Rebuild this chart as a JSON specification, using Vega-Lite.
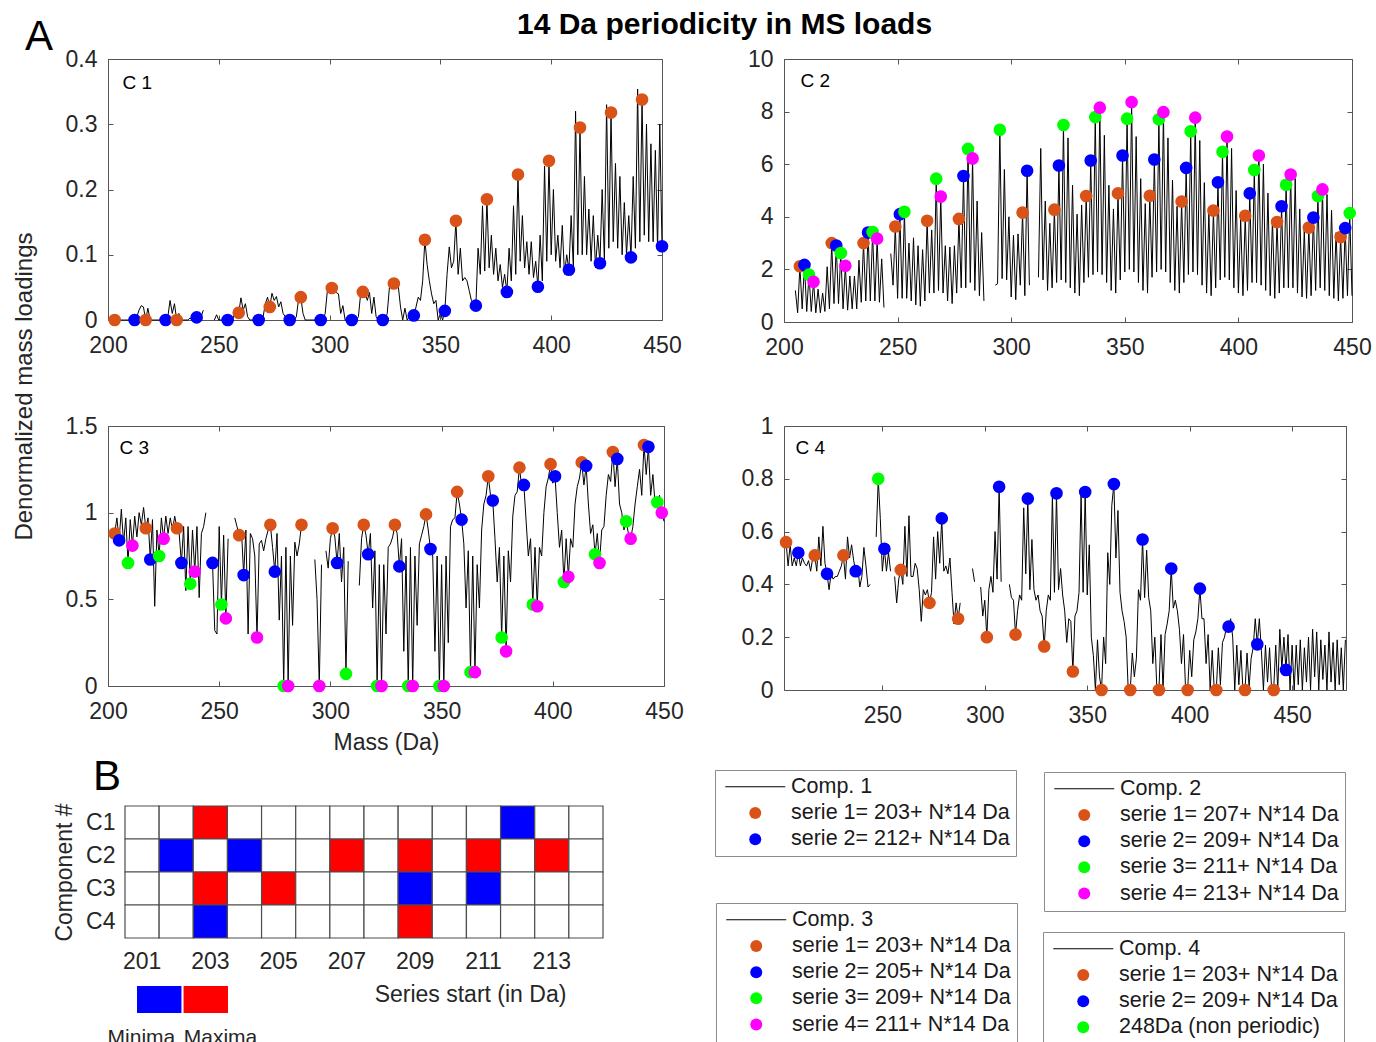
{
"$schema": "https://vega.github.io/schema/vega-lite/v6.json",
"autosize": "none",
"padding": {"left": 108, "top": 59, "right": 1268, "bottom": 983},
"background": "#ffffff",
"config": {
 "font": "Liberation Sans",
 "view": {"stroke": "#555555", "strokeWidth": 1},
 "axis": {"domain": false, "grid": false, "tickSize": -5, "tickColor": "#555555", "tickWidth": 1, "labelFont": "Liberation Sans", "labelFontSize": 23, "labelColor": "#262626", "labelFlush": false, "labelOverlap": false, "titleFont": "Liberation Sans", "titleFontSize": 23, "titleFontWeight": "normal", "titleColor": "#262626"},
 "axisX": {"labelPadding": 19},
 "axisY": {"labelPadding": 16},
 "title": {"font": "Liberation Sans", "color": "#000000", "anchor": "start", "frame": "group"},
 "legend": {"labelFont": "Liberation Sans", "labelFontSize": 21.5, "labelColor": "#1a1a1a", "labelLimit": 400, "padding": 6, "strokeColor": "#8c8c8c", "fillColor": "#ffffff", "symbolOffset": 23.5, "labelOffset": 25, "rowPadding": 3.2, "symbolSize": 144, "symbolStrokeWidth": 1, "symbolOpacity": 1, "orient": "none"}
},
"columns": 2,
"align": "each",
"bounds": "flush",
"spacing": {"row": 104, "column": 120},
"resolve": {"scale": {"color": "independent", "shape": "independent", "stroke": "independent"}},
"datasets": {
"c1": [{"m":203,"v":0,"s":"serie 1= 203+ N*14 Da"},{"m":204,"v":0},{"m":205,"v":0},{"m":206,"v":0},{"m":207,"v":0},{"m":208,"v":0},{"m":209,"v":0},{"m":210,"v":0},{"m":211,"v":0},{"m":212,"v":0,"s":"serie 2= 212+ N*14 Da"},{"m":213,"v":0.005},{"m":214,"v":0.015},{"m":215,"v":0.022},{"m":216,"v":0.02},{"m":217,"v":0,"s":"serie 1= 203+ N*14 Da"},{"m":218,"v":0.018},{"m":219,"v":0},{"m":220,"v":0},{"m":221,"v":0},{"m":222,"v":0},{"m":223,"v":0},{"m":224,"v":0},{"m":225,"v":0},{"m":226,"v":0,"s":"serie 2= 212+ N*14 Da"},{"m":227,"v":0.005},{"m":228,"v":0.03},{"m":229,"v":0.01},{"m":230,"v":0.025},{"m":231,"v":0,"s":"serie 1= 203+ N*14 Da"},{"m":232,"v":0.01},{"m":233,"v":0},{"m":234,"v":0},{"m":235,"v":0},{"m":236,"v":0},{"m":237,"v":0.003},{"m":238,"v":0},{"m":239,"v":0},{"m":240,"v":0.004,"s":"serie 2= 212+ N*14 Da"},{"m":241,"v":0.002},{"m":242,"v":0.005},{"m":243,"v":0.015},{"m":244,"v":null},{"m":245,"v":null},{"m":246,"v":null},{"m":247,"v":null},{"m":248,"v":0},{"m":249,"v":0.008},{"m":250,"v":0},{"m":251,"v":0},{"m":252,"v":0},{"m":253,"v":0},{"m":254,"v":0,"s":"serie 2= 212+ N*14 Da"},{"m":255,"v":0},{"m":256,"v":0},{"m":257,"v":0.008},{"m":258,"v":0.02},{"m":259,"v":0.011,"s":"serie 1= 203+ N*14 Da"},{"m":260,"v":0.034},{"m":261,"v":0.015},{"m":262,"v":0.025},{"m":263,"v":0.005},{"m":264,"v":0},{"m":265,"v":0},{"m":266,"v":0},{"m":267,"v":0},{"m":268,"v":0,"s":"serie 2= 212+ N*14 Da"},{"m":269,"v":0},{"m":270,"v":0.005},{"m":271,"v":0.025},{"m":272,"v":0.035},{"m":273,"v":0.02,"s":"serie 1= 203+ N*14 Da"},{"m":274,"v":0.041},{"m":275,"v":0.03},{"m":276,"v":0.036},{"m":277,"v":0.02},{"m":278,"v":0.028},{"m":279,"v":0.01},{"m":280,"v":0.005},{"m":281,"v":0},{"m":282,"v":0,"s":"serie 2= 212+ N*14 Da"},{"m":283,"v":0},{"m":284,"v":0},{"m":285,"v":0.005},{"m":286,"v":0.032},{"m":287,"v":0.035,"s":"serie 1= 203+ N*14 Da"},{"m":288,"v":0.01},{"m":289,"v":0},{"m":290,"v":0},{"m":291,"v":0},{"m":292,"v":0},{"m":293,"v":0},{"m":294,"v":0},{"m":295,"v":0},{"m":296,"v":0,"s":"serie 2= 212+ N*14 Da"},{"m":297,"v":0},{"m":298,"v":0.01},{"m":299,"v":0.045},{"m":300,"v":0.05},{"m":301,"v":0.049,"s":"serie 1= 203+ N*14 Da"},{"m":302,"v":0.048},{"m":303,"v":0.042},{"m":304,"v":0.04},{"m":305,"v":0.01},{"m":306,"v":0.022},{"m":307,"v":0},{"m":308,"v":0},{"m":309,"v":0},{"m":310,"v":0,"s":"serie 2= 212+ N*14 Da"},{"m":311,"v":0},{"m":312,"v":0},{"m":313,"v":0.005},{"m":314,"v":0.04},{"m":315,"v":0.043,"s":"serie 1= 203+ N*14 Da"},{"m":316,"v":0.044},{"m":317,"v":0.03},{"m":318,"v":0.042},{"m":319,"v":0.01},{"m":320,"v":0.035},{"m":321,"v":0.005},{"m":322,"v":0},{"m":323,"v":0},{"m":324,"v":0,"s":"serie 2= 212+ N*14 Da"},{"m":325,"v":0},{"m":326,"v":0.01},{"m":327,"v":0.05},{"m":328,"v":0.055},{"m":329,"v":0.056,"s":"serie 1= 203+ N*14 Da"},{"m":330,"v":0.055},{"m":331,"v":0.052},{"m":332,"v":0.02},{"m":333,"v":0},{"m":334,"v":0.018},{"m":335,"v":0},{"m":336,"v":0.005},{"m":337,"v":0},{"m":338,"v":0.007,"s":"serie 2= 212+ N*14 Da"},{"m":339,"v":0.02},{"m":340,"v":0.035},{"m":341,"v":0.03},{"m":342,"v":0.06},{"m":343,"v":0.123,"s":"serie 1= 203+ N*14 Da"},{"m":344,"v":0.085},{"m":345,"v":0.06},{"m":346,"v":0.04},{"m":347,"v":0.025},{"m":348,"v":0.03},{"m":349,"v":0},{"m":350,"v":0.01},{"m":351,"v":0},{"m":352,"v":0.014,"s":"serie 2= 212+ N*14 Da"},{"m":353,"v":0.07},{"m":354,"v":0.112},{"m":355,"v":0.08},{"m":356,"v":0.09},{"m":357,"v":0.152,"s":"serie 1= 203+ N*14 Da"},{"m":358,"v":0.07},{"m":359,"v":0.11},{"m":360,"v":0.06},{"m":361,"v":0.065},{"m":362,"v":0.06},{"m":363,"v":0.045},{"m":364,"v":0.03},{"m":365,"v":0.025},{"m":366,"v":0.022,"s":"serie 2= 212+ N*14 Da"},{"m":367,"v":0.11},{"m":368,"v":0.07},{"m":369,"v":0.175},{"m":370,"v":0.075},{"m":371,"v":0.185,"s":"serie 1= 203+ N*14 Da"},{"m":372,"v":0.08},{"m":373,"v":0.13},{"m":374,"v":0.07},{"m":375,"v":0.11},{"m":376,"v":0.06},{"m":377,"v":0.085},{"m":378,"v":0.05},{"m":379,"v":0.07},{"m":380,"v":0.043,"s":"serie 2= 212+ N*14 Da"},{"m":381,"v":0.11},{"m":382,"v":0.06},{"m":383,"v":0.175},{"m":384,"v":0.07},{"m":385,"v":0.223,"s":"serie 1= 203+ N*14 Da"},{"m":386,"v":0.09},{"m":387,"v":0.16},{"m":388,"v":0.08},{"m":389,"v":0.12},{"m":390,"v":0.07},{"m":391,"v":0.12},{"m":392,"v":0.065},{"m":393,"v":0.09},{"m":394,"v":0.051,"s":"serie 2= 212+ N*14 Da"},{"m":395,"v":0.13},{"m":396,"v":0.06},{"m":397,"v":0.236},{"m":398,"v":0.09},{"m":399,"v":0.244,"s":"serie 1= 203+ N*14 Da"},{"m":400,"v":0.1},{"m":401,"v":0.2},{"m":402,"v":0.09},{"m":403,"v":0.13},{"m":404,"v":0.08},{"m":405,"v":0.145},{"m":406,"v":0.07},{"m":407,"v":0.1},{"m":408,"v":0.077,"s":"serie 2= 212+ N*14 Da"},{"m":409,"v":0.16},{"m":410,"v":0.08},{"m":411,"v":0.32},{"m":412,"v":0.1},{"m":413,"v":0.295,"s":"serie 1= 203+ N*14 Da"},{"m":414,"v":0.1},{"m":415,"v":0.22},{"m":416,"v":0.1},{"m":417,"v":0.17},{"m":418,"v":0.09},{"m":419,"v":0.16},{"m":420,"v":0.08},{"m":421,"v":0.13},{"m":422,"v":0.087,"s":"serie 2= 212+ N*14 Da"},{"m":423,"v":0.2},{"m":424,"v":0.09},{"m":425,"v":0.33},{"m":426,"v":0.11},{"m":427,"v":0.318,"s":"serie 1= 203+ N*14 Da"},{"m":428,"v":0.12},{"m":429,"v":0.24},{"m":430,"v":0.11},{"m":431,"v":0.22},{"m":432,"v":0.1},{"m":433,"v":0.18},{"m":434,"v":0.1},{"m":435,"v":0.16},{"m":436,"v":0.096,"s":"serie 2= 212+ N*14 Da"},{"m":437,"v":0.22},{"m":438,"v":0.11},{"m":439,"v":0.354},{"m":440,"v":0.12},{"m":441,"v":0.338,"s":"serie 1= 203+ N*14 Da"},{"m":442,"v":0.13},{"m":443,"v":0.3},{"m":444,"v":0.12},{"m":445,"v":0.27},{"m":446,"v":0.12},{"m":447,"v":0.26},{"m":448,"v":0.11},{"m":449,"v":0.3},{"m":450,"v":0.113,"s":"serie 2= 212+ N*14 Da"}],
"c2": [{"m":205,"v":1.2},{"m":206,"v":0.35},{"m":207,"v":2.12,"s":"serie 1= 207+ N*14 Da"},{"m":208,"v":0.5},{"m":209,"v":2.17,"s":"serie 2= 209+ N*14 Da"},{"m":210,"v":0.4},{"m":211,"v":1.8,"s":"serie 3= 211+ N*14 Da"},{"m":212,"v":0.4},{"m":213,"v":1.53,"s":"serie 4= 213+ N*14 Da"},{"m":214,"v":0.35},{"m":215,"v":1.25},{"m":216,"v":0.35},{"m":217,"v":1.1},{"m":218,"v":0.4},{"m":219,"v":2.1},{"m":220,"v":0.5},{"m":221,"v":3.0,"s":"serie 1= 207+ N*14 Da"},{"m":222,"v":0.7},{"m":223,"v":2.91,"s":"serie 2= 209+ N*14 Da"},{"m":224,"v":0.7},{"m":225,"v":2.62,"s":"serie 3= 211+ N*14 Da"},{"m":226,"v":0.5},{"m":227,"v":2.14,"s":"serie 4= 213+ N*14 Da"},{"m":228,"v":0.45},{"m":229,"v":1.75},{"m":230,"v":0.5},{"m":231,"v":1.75},{"m":232,"v":0.5},{"m":233,"v":2.35},{"m":234,"v":0.75},{"m":235,"v":3.0,"s":"serie 1= 207+ N*14 Da"},{"m":236,"v":0.8},{"m":237,"v":3.4,"s":"serie 2= 209+ N*14 Da"},{"m":238,"v":0.8},{"m":239,"v":3.42,"s":"serie 3= 211+ N*14 Da"},{"m":240,"v":0.8},{"m":241,"v":3.17,"s":"serie 4= 213+ N*14 Da"},{"m":242,"v":0.75},{"m":243,"v":2.4},{"m":244,"v":0.55},{"m":245,"v":null},{"m":246,"v":null},{"m":247,"v":2.6},{"m":248,"v":1.4},{"m":249,"v":3.63,"s":"serie 1= 207+ N*14 Da"},{"m":250,"v":0.9},{"m":251,"v":4.1,"s":"serie 2= 209+ N*14 Da"},{"m":252,"v":0.9},{"m":253,"v":4.19,"s":"serie 3= 211+ N*14 Da"},{"m":254,"v":0.9},{"m":255,"v":3.0},{"m":256,"v":0.8},{"m":257,"v":3.2},{"m":258,"v":0.65},{"m":259,"v":2.9},{"m":260,"v":0.6},{"m":261,"v":2.75},{"m":262,"v":0.8},{"m":263,"v":3.85,"s":"serie 1= 207+ N*14 Da"},{"m":264,"v":1.1},{"m":265,"v":3.5},{"m":266,"v":1.1},{"m":267,"v":5.45,"s":"serie 3= 211+ N*14 Da"},{"m":268,"v":1.2},{"m":269,"v":4.77,"s":"serie 4= 213+ N*14 Da"},{"m":270,"v":1.1},{"m":271,"v":2.9},{"m":272,"v":0.8},{"m":273,"v":2.85},{"m":274,"v":0.7},{"m":275,"v":2.9},{"m":276,"v":1.1},{"m":277,"v":3.92,"s":"serie 1= 207+ N*14 Da"},{"m":278,"v":1.3},{"m":279,"v":5.55,"s":"serie 2= 209+ N*14 Da"},{"m":280,"v":1.3},{"m":281,"v":6.58,"s":"serie 3= 211+ N*14 Da"},{"m":282,"v":1.5},{"m":283,"v":6.22,"s":"serie 4= 213+ N*14 Da"},{"m":284,"v":1.2},{"m":285,"v":4.6},{"m":286,"v":1.0},{"m":287,"v":3.4},{"m":288,"v":0.8},{"m":289,"v":null},{"m":290,"v":null},{"m":291,"v":null},{"m":292,"v":null},{"m":293,"v":1.4},{"m":294,"v":1.45},{"m":295,"v":7.31,"s":"serie 3= 211+ N*14 Da"},{"m":296,"v":1.65},{"m":297,"v":5.8},{"m":298,"v":1.6},{"m":299,"v":4.0},{"m":300,"v":0.95},{"m":301,"v":3.3},{"m":302,"v":0.85},{"m":303,"v":3.35},{"m":304,"v":1.4},{"m":305,"v":4.16,"s":"serie 1= 207+ N*14 Da"},{"m":306,"v":1.0},{"m":307,"v":5.75,"s":"serie 2= 209+ N*14 Da"},{"m":308,"v":1.4},{"m":309,"v":null},{"m":310,"v":null},{"m":311,"v":null},{"m":312,"v":1.7},{"m":313,"v":6.6},{"m":314,"v":1.6},{"m":315,"v":4.6},{"m":316,"v":1.2},{"m":317,"v":3.75},{"m":318,"v":1.3},{"m":319,"v":4.27,"s":"serie 1= 207+ N*14 Da"},{"m":320,"v":1.5},{"m":321,"v":5.95,"s":"serie 2= 209+ N*14 Da"},{"m":322,"v":1.6},{"m":323,"v":7.49,"s":"serie 3= 211+ N*14 Da"},{"m":324,"v":1.5},{"m":325,"v":7.0},{"m":326,"v":1.3},{"m":327,"v":5.2},{"m":328,"v":1.1},{"m":329,"v":4.1},{"m":330,"v":1.0},{"m":331,"v":4.45},{"m":332,"v":1.5},{"m":333,"v":4.79,"s":"serie 1= 207+ N*14 Da"},{"m":334,"v":1.7},{"m":335,"v":6.14,"s":"serie 2= 209+ N*14 Da"},{"m":336,"v":1.8},{"m":337,"v":7.79,"s":"serie 3= 211+ N*14 Da"},{"m":338,"v":1.9},{"m":339,"v":8.15,"s":"serie 4= 213+ N*14 Da"},{"m":340,"v":1.8},{"m":341,"v":7.1},{"m":342,"v":1.5},{"m":343,"v":5.2},{"m":344,"v":1.2},{"m":345,"v":4.3},{"m":346,"v":1.1},{"m":347,"v":4.89,"s":"serie 1= 207+ N*14 Da"},{"m":348,"v":1.6},{"m":349,"v":6.33,"s":"serie 2= 209+ N*14 Da"},{"m":350,"v":1.9},{"m":351,"v":7.73,"s":"serie 3= 211+ N*14 Da"},{"m":352,"v":2.0},{"m":353,"v":8.36,"s":"serie 4= 213+ N*14 Da"},{"m":354,"v":1.9},{"m":355,"v":7.05},{"m":356,"v":1.5},{"m":357,"v":5.45},{"m":358,"v":1.2},{"m":359,"v":4.5},{"m":360,"v":1.1},{"m":361,"v":4.8,"s":"serie 1= 207+ N*14 Da"},{"m":362,"v":1.7},{"m":363,"v":6.18,"s":"serie 2= 209+ N*14 Da"},{"m":364,"v":1.9},{"m":365,"v":7.71,"s":"serie 3= 211+ N*14 Da"},{"m":366,"v":2.0},{"m":367,"v":7.98,"s":"serie 4= 213+ N*14 Da"},{"m":368,"v":1.9},{"m":369,"v":7.0},{"m":370,"v":1.5},{"m":371,"v":5.4},{"m":372,"v":1.2},{"m":373,"v":4.4},{"m":374,"v":1.1},{"m":375,"v":4.58,"s":"serie 1= 207+ N*14 Da"},{"m":376,"v":1.5},{"m":377,"v":5.86,"s":"serie 2= 209+ N*14 Da"},{"m":378,"v":1.8},{"m":379,"v":7.25,"s":"serie 3= 211+ N*14 Da"},{"m":380,"v":1.9},{"m":381,"v":7.77,"s":"serie 4= 213+ N*14 Da"},{"m":382,"v":1.8},{"m":383,"v":6.9},{"m":384,"v":1.4},{"m":385,"v":5.3},{"m":386,"v":1.1},{"m":387,"v":4.2},{"m":388,"v":1.0},{"m":389,"v":4.24,"s":"serie 1= 207+ N*14 Da"},{"m":390,"v":1.3},{"m":391,"v":5.31,"s":"serie 2= 209+ N*14 Da"},{"m":392,"v":1.6},{"m":393,"v":6.47,"s":"serie 3= 211+ N*14 Da"},{"m":394,"v":1.7},{"m":395,"v":7.05,"s":"serie 4= 213+ N*14 Da"},{"m":396,"v":1.6},{"m":397,"v":6.6},{"m":398,"v":1.3},{"m":399,"v":5.0},{"m":400,"v":1.1},{"m":401,"v":3.9},{"m":402,"v":1.0},{"m":403,"v":4.04,"s":"serie 1= 207+ N*14 Da"},{"m":404,"v":1.2},{"m":405,"v":4.89,"s":"serie 2= 209+ N*14 Da"},{"m":406,"v":1.5},{"m":407,"v":5.78,"s":"serie 3= 211+ N*14 Da"},{"m":408,"v":1.5},{"m":409,"v":6.33,"s":"serie 4= 213+ N*14 Da"},{"m":410,"v":1.4},{"m":411,"v":6.0},{"m":412,"v":1.2},{"m":413,"v":4.9},{"m":414,"v":1.0},{"m":415,"v":3.9},{"m":416,"v":0.9},{"m":417,"v":3.8,"s":"serie 1= 207+ N*14 Da"},{"m":418,"v":1.1},{"m":419,"v":4.4,"s":"serie 2= 209+ N*14 Da"},{"m":420,"v":1.3},{"m":421,"v":5.22,"s":"serie 3= 211+ N*14 Da"},{"m":422,"v":1.3},{"m":423,"v":5.61,"s":"serie 4= 213+ N*14 Da"},{"m":424,"v":1.3},{"m":425,"v":5.45},{"m":426,"v":1.1},{"m":427,"v":4.3},{"m":428,"v":0.95},{"m":429,"v":3.5},{"m":430,"v":0.9},{"m":431,"v":3.59,"s":"serie 1= 207+ N*14 Da"},{"m":432,"v":1.0},{"m":433,"v":3.97,"s":"serie 2= 209+ N*14 Da"},{"m":434,"v":1.2},{"m":435,"v":4.79,"s":"serie 3= 211+ N*14 Da"},{"m":436,"v":1.3},{"m":437,"v":5.04,"s":"serie 4= 213+ N*14 Da"},{"m":438,"v":1.2},{"m":439,"v":4.85},{"m":440,"v":1.0},{"m":441,"v":4.25},{"m":442,"v":0.9},{"m":443,"v":3.4},{"m":444,"v":0.8},{"m":445,"v":3.23,"s":"serie 1= 207+ N*14 Da"},{"m":446,"v":0.9},{"m":447,"v":3.57,"s":"serie 2= 209+ N*14 Da"},{"m":448,"v":1.0},{"m":449,"v":4.14,"s":"serie 3= 211+ N*14 Da"},{"m":450,"v":1.0}],
"c3": [{"m":203,"v":0.88,"s":"serie 1= 203+ N*14 Da"},{"m":204,"v":0.97},{"m":205,"v":0.84,"s":"serie 2= 205+ N*14 Da"},{"m":206,"v":1.02},{"m":207,"v":0.82},{"m":208,"v":0.97},{"m":209,"v":0.71,"s":"serie 3= 209+ N*14 Da"},{"m":210,"v":0.96},{"m":211,"v":0.81,"s":"serie 4= 211+ N*14 Da"},{"m":212,"v":0.98},{"m":213,"v":0.86},{"m":214,"v":1.0},{"m":215,"v":0.93},{"m":216,"v":1.03},{"m":217,"v":0.91,"s":"serie 1= 203+ N*14 Da"},{"m":218,"v":0.97},{"m":219,"v":0.73,"s":"serie 2= 205+ N*14 Da"},{"m":220,"v":0.96},{"m":221,"v":0.46},{"m":222,"v":0.9},{"m":223,"v":0.75,"s":"serie 3= 209+ N*14 Da"},{"m":224,"v":0.97},{"m":225,"v":0.85,"s":"serie 4= 211+ N*14 Da"},{"m":226,"v":0.98},{"m":227,"v":0.88},{"m":228,"v":0.97},{"m":229,"v":0.9},{"m":230,"v":0.98},{"m":231,"v":0.91,"s":"serie 1= 203+ N*14 Da"},{"m":232,"v":0.88},{"m":233,"v":0.71,"s":"serie 2= 205+ N*14 Da"},{"m":234,"v":0.92},{"m":235,"v":0.55},{"m":236,"v":0.92},{"m":237,"v":0.59,"s":"serie 3= 209+ N*14 Da"},{"m":238,"v":0.9},{"m":239,"v":0.66,"s":"serie 4= 211+ N*14 Da"},{"m":240,"v":0.92},{"m":241,"v":0.51},{"m":242,"v":0.88},{"m":243,"v":0.92},{"m":244,"v":1.0},{"m":245,"v":null},{"m":246,"v":null},{"m":247,"v":0.71,"s":"serie 2= 205+ N*14 Da"},{"m":248,"v":0.32},{"m":249,"v":0.3},{"m":250,"v":0.92},{"m":251,"v":0.47,"s":"serie 3= 209+ N*14 Da"},{"m":252,"v":0.87},{"m":253,"v":0.39,"s":"serie 4= 211+ N*14 Da"},{"m":254,"v":0.85},{"m":255,"v":null},{"m":256,"v":null},{"m":257,"v":0.97},{"m":258,"v":0.92},{"m":259,"v":0.87,"s":"serie 1= 203+ N*14 Da"},{"m":260,"v":0.9},{"m":261,"v":0.64,"s":"serie 2= 205+ N*14 Da"},{"m":262,"v":0.9},{"m":263,"v":0.3},{"m":264,"v":0.88},{"m":265,"v":0.85},{"m":266,"v":0.75},{"m":267,"v":0.28,"s":"serie 4= 211+ N*14 Da"},{"m":268,"v":0.82},{"m":269,"v":0.84},{"m":270,"v":0.78},{"m":271,"v":0.85},{"m":272,"v":0.9},{"m":273,"v":0.93,"s":"serie 1= 203+ N*14 Da"},{"m":274,"v":0.8},{"m":275,"v":0.66,"s":"serie 2= 205+ N*14 Da"},{"m":276,"v":0.88},{"m":277,"v":0.38},{"m":278,"v":0.75},{"m":279,"v":0,"s":"serie 3= 209+ N*14 Da"},{"m":280,"v":0.8},{"m":281,"v":0,"s":"serie 4= 211+ N*14 Da"},{"m":282,"v":0.75},{"m":283,"v":0.35},{"m":284,"v":0.83},{"m":285,"v":0.75},{"m":286,"v":0.82},{"m":287,"v":0.93,"s":"serie 1= 203+ N*14 Da"},{"m":288,"v":null},{"m":289,"v":null},{"m":290,"v":null},{"m":291,"v":null},{"m":292,"v":null},{"m":293,"v":0.73},{"m":294,"v":0.5},{"m":295,"v":0,"s":"serie 4= 211+ N*14 Da"},{"m":296,"v":0.7},{"m":297,"v":null},{"m":298,"v":0.78},{"m":299,"v":0.68},{"m":300,"v":0.85},{"m":301,"v":0.91,"s":"serie 1= 203+ N*14 Da"},{"m":302,"v":0.86},{"m":303,"v":0.71,"s":"serie 2= 205+ N*14 Da"},{"m":304,"v":0.88},{"m":305,"v":0.6},{"m":306,"v":0.8},{"m":307,"v":0.07,"s":"serie 3= 209+ N*14 Da"},{"m":308,"v":0.72},{"m":309,"v":null},{"m":310,"v":null},{"m":311,"v":null},{"m":312,"v":null},{"m":313,"v":0.58},{"m":314,"v":0.85},{"m":315,"v":0.93,"s":"serie 1= 203+ N*14 Da"},{"m":316,"v":0.87},{"m":317,"v":0.76,"s":"serie 2= 205+ N*14 Da"},{"m":318,"v":0.88},{"m":319,"v":0.45},{"m":320,"v":0.78},{"m":321,"v":0,"s":"serie 3= 209+ N*14 Da"},{"m":322,"v":0.7},{"m":323,"v":0,"s":"serie 4= 211+ N*14 Da"},{"m":324,"v":0.7},{"m":325,"v":0.3},{"m":326,"v":0.8},{"m":327,"v":0.82},{"m":328,"v":0.86},{"m":329,"v":0.93,"s":"serie 1= 203+ N*14 Da"},{"m":330,"v":0.88},{"m":331,"v":0.69,"s":"serie 2= 205+ N*14 Da"},{"m":332,"v":0.85},{"m":333,"v":0.2},{"m":334,"v":0.75},{"m":335,"v":0,"s":"serie 3= 209+ N*14 Da"},{"m":336,"v":0.8},{"m":337,"v":0,"s":"serie 4= 211+ N*14 Da"},{"m":338,"v":0.75},{"m":339,"v":0.35},{"m":340,"v":0.82},{"m":341,"v":0.87},{"m":342,"v":0.92},{"m":343,"v":0.99,"s":"serie 1= 203+ N*14 Da"},{"m":344,"v":0.9},{"m":345,"v":0.79,"s":"serie 2= 205+ N*14 Da"},{"m":346,"v":0.75},{"m":347,"v":0.2},{"m":348,"v":0.75},{"m":349,"v":0,"s":"serie 3= 209+ N*14 Da"},{"m":350,"v":0.7},{"m":351,"v":0,"s":"serie 4= 211+ N*14 Da"},{"m":352,"v":0.75},{"m":353,"v":0.25},{"m":354,"v":0.92},{"m":355,"v":0.96},{"m":356,"v":0.97},{"m":357,"v":1.12,"s":"serie 1= 203+ N*14 Da"},{"m":358,"v":1.05},{"m":359,"v":0.96,"s":"serie 2= 205+ N*14 Da"},{"m":360,"v":0.82},{"m":361,"v":0.45},{"m":362,"v":0.78},{"m":363,"v":0.08,"s":"serie 3= 209+ N*14 Da"},{"m":364,"v":0.75},{"m":365,"v":0.08,"s":"serie 4= 211+ N*14 Da"},{"m":366,"v":0.7},{"m":367,"v":0.45},{"m":368,"v":0.9},{"m":369,"v":1.05},{"m":370,"v":1.1},{"m":371,"v":1.21,"s":"serie 1= 203+ N*14 Da"},{"m":372,"v":1.1},{"m":373,"v":1.07,"s":"serie 2= 205+ N*14 Da"},{"m":374,"v":0.85},{"m":375,"v":0.6},{"m":376,"v":0.8},{"m":377,"v":0.28,"s":"serie 3= 209+ N*14 Da"},{"m":378,"v":0.75},{"m":379,"v":0.2,"s":"serie 4= 211+ N*14 Da"},{"m":380,"v":0.78},{"m":381,"v":0.6},{"m":382,"v":0.98},{"m":383,"v":1.1},{"m":384,"v":1.12},{"m":385,"v":1.26,"s":"serie 1= 203+ N*14 Da"},{"m":386,"v":1.15},{"m":387,"v":1.16,"s":"serie 2= 205+ N*14 Da"},{"m":388,"v":0.95},{"m":389,"v":0.75},{"m":390,"v":0.85},{"m":391,"v":0.47,"s":"serie 3= 209+ N*14 Da"},{"m":392,"v":0.8},{"m":393,"v":0.46,"s":"serie 4= 211+ N*14 Da"},{"m":394,"v":0.8},{"m":395,"v":0.75},{"m":396,"v":1.0},{"m":397,"v":1.15},{"m":398,"v":1.2},{"m":399,"v":1.28,"s":"serie 1= 203+ N*14 Da"},{"m":400,"v":1.17},{"m":401,"v":1.21,"s":"serie 2= 205+ N*14 Da"},{"m":402,"v":1.0},{"m":403,"v":0.8},{"m":404,"v":0.9},{"m":405,"v":0.6,"s":"serie 3= 209+ N*14 Da"},{"m":406,"v":0.85},{"m":407,"v":0.63,"s":"serie 4= 211+ N*14 Da"},{"m":408,"v":0.85},{"m":409,"v":0.8},{"m":410,"v":1.05},{"m":411,"v":1.15},{"m":412,"v":1.2},{"m":413,"v":1.29,"s":"serie 1= 203+ N*14 Da"},{"m":414,"v":1.16},{"m":415,"v":1.27,"s":"serie 2= 205+ N*14 Da"},{"m":416,"v":1.05},{"m":417,"v":0.88},{"m":418,"v":0.93},{"m":419,"v":0.76,"s":"serie 3= 209+ N*14 Da"},{"m":420,"v":0.88},{"m":421,"v":0.71,"s":"serie 4= 211+ N*14 Da"},{"m":422,"v":0.9},{"m":423,"v":0.92},{"m":424,"v":1.1},{"m":425,"v":1.22},{"m":426,"v":1.18},{"m":427,"v":1.35,"s":"serie 1= 203+ N*14 Da"},{"m":428,"v":1.15},{"m":429,"v":1.31,"s":"serie 2= 205+ N*14 Da"},{"m":430,"v":1.05},{"m":431,"v":1.0},{"m":432,"v":0.9},{"m":433,"v":0.95,"s":"serie 3= 209+ N*14 Da"},{"m":434,"v":0.88},{"m":435,"v":0.85,"s":"serie 4= 211+ N*14 Da"},{"m":436,"v":0.92},{"m":437,"v":1.05},{"m":438,"v":1.15},{"m":439,"v":1.25},{"m":440,"v":1.1},{"m":441,"v":1.39,"s":"serie 1= 203+ N*14 Da"},{"m":442,"v":1.22},{"m":443,"v":1.38,"s":"serie 2= 205+ N*14 Da"},{"m":444,"v":1.1},{"m":445,"v":1.22},{"m":446,"v":1.05},{"m":447,"v":1.06,"s":"serie 3= 209+ N*14 Da"},{"m":448,"v":1.1},{"m":449,"v":1.0,"s":"serie 4= 211+ N*14 Da"},{"m":450,"v":0.95}],
"c4": [{"m":203,"v":0.56,"s":"serie 1= 203+ N*14 Da"},{"m":204,"v":0.47},{"m":205,"v":0.55},{"m":206,"v":0.47},{"m":207,"v":0.5},{"m":208,"v":0.47},{"m":209,"v":0.52,"s":"serie 2= 209+ N*14 Da"},{"m":210,"v":0.47},{"m":211,"v":0.5},{"m":212,"v":0.48},{"m":213,"v":0.47},{"m":214,"v":0.49},{"m":215,"v":0.45},{"m":216,"v":0.5},{"m":217,"v":0.51,"s":"serie 1= 203+ N*14 Da"},{"m":218,"v":0.45},{"m":219,"v":0.58},{"m":220,"v":0.47},{"m":221,"v":0.62},{"m":222,"v":0.48},{"m":223,"v":0.44,"s":"serie 2= 209+ N*14 Da"},{"m":224,"v":0.38},{"m":225,"v":0.44},{"m":226,"v":0.42},{"m":227,"v":0.43},{"m":228,"v":0.43},{"m":229,"v":0.45},{"m":230,"v":0.47},{"m":231,"v":0.51,"s":"serie 1= 203+ N*14 Da"},{"m":232,"v":0.42},{"m":233,"v":0.58},{"m":234,"v":0.5},{"m":235,"v":0.55},{"m":236,"v":0.49},{"m":237,"v":0.45,"s":"serie 2= 209+ N*14 Da"},{"m":238,"v":0.47},{"m":239,"v":0.39},{"m":240,"v":0.43},{"m":241,"v":0.54},{"m":242,"v":0.47},{"m":243,"v":0.39},{"m":244,"v":0.4},{"m":245,"v":null},{"m":246,"v":null},{"m":247,"v":0.58},{"m":248,"v":0.8,"s":"248Da (non periodic)"},{"m":249,"v":0.65},{"m":250,"v":0.45},{"m":251,"v":0.535,"s":"serie 2= 209+ N*14 Da"},{"m":252,"v":0.45},{"m":253,"v":0.52},{"m":254,"v":0.45},{"m":255,"v":null},{"m":256,"v":0.43},{"m":257,"v":0.33},{"m":258,"v":0.42},{"m":259,"v":0.455,"s":"serie 1= 203+ N*14 Da"},{"m":260,"v":0.4},{"m":261,"v":0.62},{"m":262,"v":0.43},{"m":263,"v":0.66},{"m":264,"v":0.43},{"m":265,"v":0.43},{"m":266,"v":0.48},{"m":267,"v":0.46},{"m":268,"v":0.38},{"m":269,"v":0.26},{"m":270,"v":0.38},{"m":271,"v":0.36},{"m":272,"v":0.38},{"m":273,"v":0.33,"s":"serie 1= 203+ N*14 Da"},{"m":274,"v":0.37},{"m":275,"v":0.58},{"m":276,"v":0.42},{"m":277,"v":0.6},{"m":278,"v":0.48},{"m":279,"v":0.65,"s":"serie 2= 209+ N*14 Da"},{"m":280,"v":0.45},{"m":281,"v":0.47},{"m":282,"v":0.44},{"m":283,"v":0.5},{"m":284,"v":0.37},{"m":285,"v":0.25},{"m":286,"v":0.33},{"m":287,"v":0.27,"s":"serie 1= 203+ N*14 Da"},{"m":288,"v":0.33},{"m":289,"v":null},{"m":290,"v":null},{"m":291,"v":null},{"m":292,"v":null},{"m":293,"v":null},{"m":294,"v":0.46},{"m":295,"v":0.41},{"m":296,"v":null},{"m":297,"v":null},{"m":298,"v":0.39},{"m":299,"v":0.28},{"m":300,"v":0.34},{"m":301,"v":0.2,"s":"serie 1= 203+ N*14 Da"},{"m":302,"v":0.38},{"m":303,"v":0.43},{"m":304,"v":0.37},{"m":305,"v":0.6},{"m":306,"v":0.42},{"m":307,"v":0.77,"s":"serie 2= 209+ N*14 Da"},{"m":308,"v":0.41},{"m":309,"v":null},{"m":310,"v":null},{"m":311,"v":null},{"m":312,"v":0.4},{"m":313,"v":0.35},{"m":314,"v":0.34},{"m":315,"v":0.21,"s":"serie 1= 203+ N*14 Da"},{"m":316,"v":0.3},{"m":317,"v":0.36},{"m":318,"v":0.34},{"m":319,"v":0.69},{"m":320,"v":0.44},{"m":321,"v":0.725,"s":"serie 2= 209+ N*14 Da"},{"m":322,"v":0.38},{"m":323,"v":0.57},{"m":324,"v":0.38},{"m":325,"v":0.34},{"m":326,"v":0.36},{"m":327,"v":0.3},{"m":328,"v":0.28},{"m":329,"v":0.165,"s":"serie 1= 203+ N*14 Da"},{"m":330,"v":0.3},{"m":331,"v":0.36},{"m":332,"v":0.34},{"m":333,"v":0.74},{"m":334,"v":0.37},{"m":335,"v":0.745,"s":"serie 2= 209+ N*14 Da"},{"m":336,"v":0.38},{"m":337,"v":0.46},{"m":338,"v":0.36},{"m":339,"v":0.3},{"m":340,"v":0.18},{"m":341,"v":0.27},{"m":342,"v":0.26},{"m":343,"v":0.07,"s":"serie 1= 203+ N*14 Da"},{"m":344,"v":0.28},{"m":345,"v":0.3},{"m":346,"v":0.37},{"m":347,"v":0.74},{"m":348,"v":0.37},{"m":349,"v":0.75,"s":"serie 2= 209+ N*14 Da"},{"m":350,"v":0.36},{"m":351,"v":0.55},{"m":352,"v":0.2},{"m":353,"v":0.13},{"m":354,"v":0.0},{"m":355,"v":0.19},{"m":356,"v":0.05},{"m":357,"v":0,"s":"serie 1= 203+ N*14 Da"},{"m":358,"v":0.2},{"m":359,"v":0.1},{"m":360,"v":0.52},{"m":361,"v":0.4},{"m":362,"v":0.7},{"m":363,"v":0.78,"s":"serie 2= 209+ N*14 Da"},{"m":364,"v":0.5},{"m":365,"v":0.68},{"m":366,"v":0.37},{"m":367,"v":0.3},{"m":368,"v":0.26},{"m":369,"v":0.2},{"m":370,"v":0.0},{"m":371,"v":0,"s":"serie 1= 203+ N*14 Da"},{"m":372,"v":0.14},{"m":373,"v":0.05},{"m":374,"v":0.12},{"m":375,"v":0.38},{"m":376,"v":0.34},{"m":377,"v":0.57,"s":"serie 2= 209+ N*14 Da"},{"m":378,"v":0.35},{"m":379,"v":0.53},{"m":380,"v":0.35},{"m":381,"v":0.3},{"m":382,"v":0.1},{"m":383,"v":0.2},{"m":384,"v":0.0},{"m":385,"v":0,"s":"serie 1= 203+ N*14 Da"},{"m":386,"v":0.21},{"m":387,"v":0.0},{"m":388,"v":0.21},{"m":389,"v":0.25},{"m":390,"v":0.3},{"m":391,"v":0.46,"s":"serie 2= 209+ N*14 Da"},{"m":392,"v":0.31},{"m":393,"v":0.34},{"m":394,"v":0.3},{"m":395,"v":0.23},{"m":396,"v":0.1},{"m":397,"v":0.21},{"m":398,"v":0.0},{"m":399,"v":0,"s":"serie 1= 203+ N*14 Da"},{"m":400,"v":0.15},{"m":401,"v":0.05},{"m":402,"v":0.19},{"m":403,"v":0.22},{"m":404,"v":0.27},{"m":405,"v":0.384,"s":"serie 2= 209+ N*14 Da"},{"m":406,"v":0.27},{"m":407,"v":0.27},{"m":408,"v":0.1},{"m":409,"v":0.21},{"m":410,"v":0.0},{"m":411,"v":0.15},{"m":412,"v":0.0},{"m":413,"v":0,"s":"serie 1= 203+ N*14 Da"},{"m":414,"v":0.16},{"m":415,"v":0.02},{"m":416,"v":0.18},{"m":417,"v":0.2},{"m":418,"v":0.24},{"m":419,"v":0.24,"s":"serie 2= 209+ N*14 Da"},{"m":420,"v":0.27},{"m":421,"v":0.2},{"m":422,"v":0.0},{"m":423,"v":0.17},{"m":424,"v":0.02},{"m":425,"v":0.15},{"m":426,"v":0.0},{"m":427,"v":0,"s":"serie 1= 203+ N*14 Da"},{"m":428,"v":0.14},{"m":429,"v":0.01},{"m":430,"v":0.12},{"m":431,"v":0.16},{"m":432,"v":0.27},{"m":433,"v":0.173,"s":"serie 2= 209+ N*14 Da"},{"m":434,"v":0.27},{"m":435,"v":0.15},{"m":436,"v":0.0},{"m":437,"v":0.17},{"m":438,"v":0.03},{"m":439,"v":0.16},{"m":440,"v":0.0},{"m":441,"v":0,"s":"serie 1= 203+ N*14 Da"},{"m":442,"v":0.17},{"m":443,"v":0.0},{"m":444,"v":0.23},{"m":445,"v":0.08},{"m":446,"v":0.2},{"m":447,"v":0.076,"s":"serie 2= 209+ N*14 Da"},{"m":448,"v":0.21},{"m":449,"v":0.0},{"m":450,"v":0.17},{"m":451,"v":0.0},{"m":452,"v":0.17},{"m":453,"v":0.02},{"m":454,"v":0.19},{"m":455,"v":0.0},{"m":456,"v":0.16},{"m":457,"v":0.03},{"m":458,"v":0.2},{"m":459,"v":0.0},{"m":460,"v":0.23},{"m":461,"v":0.05},{"m":462,"v":0.22},{"m":463,"v":0.0},{"m":464,"v":0.19},{"m":465,"v":0.04},{"m":466,"v":0.17},{"m":467,"v":0.0},{"m":468,"v":0.22},{"m":469,"v":0.03},{"m":470,"v":0.18},{"m":471,"v":0.0},{"m":472,"v":0.19},{"m":473,"v":0.02},{"m":474,"v":0.16},{"m":475,"v":0.0},{"m":476,"v":0.19}],
"hm": [{"c":"C1","x":201,"t":"none"},{"c":"C1","x":202,"t":"none"},{"c":"C1","x":203,"t":"Maxima"},{"c":"C1","x":204,"t":"none"},{"c":"C1","x":205,"t":"none"},{"c":"C1","x":206,"t":"none"},{"c":"C1","x":207,"t":"none"},{"c":"C1","x":208,"t":"none"},{"c":"C1","x":209,"t":"none"},{"c":"C1","x":210,"t":"none"},{"c":"C1","x":211,"t":"none"},{"c":"C1","x":212,"t":"Minima"},{"c":"C1","x":213,"t":"none"},{"c":"C1","x":214,"t":"none"},
{"c":"C2","x":201,"t":"none"},{"c":"C2","x":202,"t":"Minima"},{"c":"C2","x":203,"t":"none"},{"c":"C2","x":204,"t":"Minima"},{"c":"C2","x":205,"t":"none"},{"c":"C2","x":206,"t":"none"},{"c":"C2","x":207,"t":"Maxima"},{"c":"C2","x":208,"t":"none"},{"c":"C2","x":209,"t":"Maxima"},{"c":"C2","x":210,"t":"none"},{"c":"C2","x":211,"t":"Maxima"},{"c":"C2","x":212,"t":"none"},{"c":"C2","x":213,"t":"Maxima"},{"c":"C2","x":214,"t":"none"},
{"c":"C3","x":201,"t":"none"},{"c":"C3","x":202,"t":"none"},{"c":"C3","x":203,"t":"Maxima"},{"c":"C3","x":204,"t":"none"},{"c":"C3","x":205,"t":"Maxima"},{"c":"C3","x":206,"t":"none"},{"c":"C3","x":207,"t":"none"},{"c":"C3","x":208,"t":"none"},{"c":"C3","x":209,"t":"Minima"},{"c":"C3","x":210,"t":"none"},{"c":"C3","x":211,"t":"Minima"},{"c":"C3","x":212,"t":"none"},{"c":"C3","x":213,"t":"none"},{"c":"C3","x":214,"t":"none"},
{"c":"C4","x":201,"t":"none"},{"c":"C4","x":202,"t":"none"},{"c":"C4","x":203,"t":"Minima"},{"c":"C4","x":204,"t":"none"},{"c":"C4","x":205,"t":"none"},{"c":"C4","x":206,"t":"none"},{"c":"C4","x":207,"t":"none"},{"c":"C4","x":208,"t":"none"},{"c":"C4","x":209,"t":"Maxima"},{"c":"C4","x":210,"t":"none"},{"c":"C4","x":211,"t":"none"},{"c":"C4","x":212,"t":"none"},{"c":"C4","x":213,"t":"none"},{"c":"C4","x":214,"t":"none"}],
"cb": [{"k":"Minima"},{"k":"Maxima"}]
},
"concat": [
{
 "width": 554, "height": 261,
 "title": {"text": "A", "fontSize": 42, "fontWeight": "normal", "dx": -83, "offset": -11},
 "data": {"name": "c1"},
 "layer": [
  {"mark": {"type": "line", "color": "#000000", "strokeWidth": 1, "invalid": "break-paths-show-domains"},
   "encoding": {
    "x": {"field": "m", "type": "quantitative", "scale": {"domain": [200, 450], "nice": false, "zero": false}, "axis": {"orient": "bottom", "values": [200,250,300,350,400,450], "title": null}},
    "y": {"field": "v", "type": "quantitative", "scale": {"domain": [0, 0.4], "nice": false, "zero": false}, "axis": {"orient": "left", "values": [0,0.1,0.2,0.3,0.4], "format": "~r", "title": "Denormalized mass loadings", "titleX": -84, "titleY": 327, "titleAngle": -90, "titleAlign": "center", "titleBaseline": "middle", "titleFontSize": 24}}
   }},
  {"transform": [{"filter": "isValid(datum.s)"}],
   "mark": {"type": "point", "filled": true, "size": 160, "opacity": 1, "strokeWidth": 1},
   "encoding": {
    "x": {"field": "m", "type": "quantitative", "axis": {"orient": "top", "values": [200,250,300,350,400,450], "labels": false, "title": "C 1", "titleX": 14, "titleY": 29, "titleAngle": 0, "titleAlign": "left", "titleBaseline": "alphabetic", "titleFontSize": 19, "titleColor": "#000000"}},
    "y": {"field": "v", "type": "quantitative", "axis": {"orient": "right", "values": [0,0.1,0.2,0.3,0.4], "labels": false, "title": null}},
    "color": {"field": "s", "type": "nominal",
     "scale": {"domain": ["Comp. 1", "serie 1= 203+ N*14 Da", "serie 2= 212+ N*14 Da"], "range": ["#000000", "#D95319", "#0000FF"]},
     "legend": {"title": null, "orient": "none", "legendX": 607, "legendY": 711}},
    "shape": {"field": "s", "type": "nominal",
     "scale": {"domain": ["Comp. 1", "serie 1= 203+ N*14 Da", "serie 2= 212+ N*14 Da"], "range": ["M-5,0H5", "circle", "circle"]},
     "legend": {"title": null, "orient": "none", "legendX": 607, "legendY": 711}},
    "stroke": {"field": "s", "type": "nominal",
     "scale": {"domain": ["Comp. 1", "serie 1= 203+ N*14 Da", "serie 2= 212+ N*14 Da"], "range": ["#000000", "transparent", "transparent"]},
     "legend": {"title": null, "orient": "none", "legendX": 607, "legendY": 711}}
   }}
 ]
},
{
 "width": 568, "height": 263,
 "title": {"text": "14 Da periodicity in MS loads", "fontSize": 30, "fontWeight": "bold", "dx": -267, "offset": 8},
 "data": {"name": "c2"},
 "layer": [
  {"mark": {"type": "line", "color": "#000000", "strokeWidth": 1, "invalid": "break-paths-show-domains"},
   "encoding": {
    "x": {"field": "m", "type": "quantitative", "scale": {"domain": [200, 450], "nice": false, "zero": false}, "axis": {"orient": "bottom", "values": [200,250,300,350,400,450], "title": null}},
    "y": {"field": "v", "type": "quantitative", "scale": {"domain": [0, 10], "nice": false, "zero": false}, "axis": {"orient": "left", "values": [0,2,4,6,8,10], "format": "d", "title": null}}
   }},
  {"transform": [{"filter": "isValid(datum.s)"}],
   "mark": {"type": "point", "filled": true, "size": 160, "opacity": 1, "strokeWidth": 1},
   "encoding": {
    "x": {"field": "m", "type": "quantitative", "axis": {"orient": "top", "values": [200,250,300,350,400,450], "labels": false, "title": "C 2", "titleX": 16, "titleY": 27, "titleAngle": 0, "titleAlign": "left", "titleBaseline": "alphabetic", "titleFontSize": 19, "titleColor": "#000000"}},
    "y": {"field": "v", "type": "quantitative", "axis": {"orient": "right", "values": [0,2,4,6,8,10], "labels": false, "title": null}},
    "color": {"field": "s", "type": "nominal",
     "scale": {"domain": ["Comp. 2", "serie 1= 207+ N*14 Da", "serie 2= 209+ N*14 Da", "serie 3= 211+ N*14 Da", "serie 4= 213+ N*14 Da"], "range": ["#000000", "#D95319", "#0000FF", "#00FF00", "#FF00FF"]},
     "legend": {"title": null, "orient": "none", "legendX": 260, "legendY": 713}},
    "shape": {"field": "s", "type": "nominal",
     "scale": {"domain": ["Comp. 2", "serie 1= 207+ N*14 Da", "serie 2= 209+ N*14 Da", "serie 3= 211+ N*14 Da", "serie 4= 213+ N*14 Da"], "range": ["M-5,0H5", "circle", "circle", "circle", "circle"]},
     "legend": {"title": null, "orient": "none", "legendX": 260, "legendY": 713}},
    "stroke": {"field": "s", "type": "nominal",
     "scale": {"domain": ["Comp. 2", "serie 1= 207+ N*14 Da", "serie 2= 209+ N*14 Da", "serie 3= 211+ N*14 Da", "serie 4= 213+ N*14 Da"], "range": ["#000000", "transparent", "transparent", "transparent", "transparent"]},
     "legend": {"title": null, "orient": "none", "legendX": 260, "legendY": 713}}
   }}
 ]
},
{
 "width": 556, "height": 260,
 "data": {"name": "c3"},
 "layer": [
  {"mark": {"type": "line", "color": "#000000", "strokeWidth": 1, "invalid": "break-paths-show-domains"},
   "encoding": {
    "x": {"field": "m", "type": "quantitative", "scale": {"domain": [200, 450], "nice": false, "zero": false}, "axis": {"orient": "bottom", "values": [200,250,300,350,400,450], "title": "Mass (Da)", "titlePadding": 8}},
    "y": {"field": "v", "type": "quantitative", "scale": {"domain": [0, 1.5], "nice": false, "zero": false}, "axis": {"orient": "left", "values": [0,0.5,1,1.5], "format": "~r", "title": null}}
   }},
  {"transform": [{"filter": "isValid(datum.s)"}],
   "mark": {"type": "point", "filled": true, "size": 160, "opacity": 1, "strokeWidth": 1},
   "encoding": {
    "x": {"field": "m", "type": "quantitative", "axis": {"orient": "top", "values": [200,250,300,350,400,450], "labels": false, "title": "C 3", "titleX": 11, "titleY": 27, "titleAngle": 0, "titleAlign": "left", "titleBaseline": "alphabetic", "titleFontSize": 19, "titleColor": "#000000"}},
    "y": {"field": "v", "type": "quantitative", "axis": {"orient": "right", "values": [0,0.5,1,1.5], "labels": false, "title": null}},
    "color": {"field": "s", "type": "nominal",
     "scale": {"domain": ["Comp. 3", "serie 1= 203+ N*14 Da", "serie 2= 205+ N*14 Da", "serie 3= 209+ N*14 Da", "serie 4= 211+ N*14 Da"], "range": ["#000000", "#D95319", "#0000FF", "#00FF00", "#FF00FF"]},
     "legend": {"title": null, "orient": "none", "legendX": 608, "legendY": 477}},
    "shape": {"field": "s", "type": "nominal",
     "scale": {"domain": ["Comp. 3", "serie 1= 203+ N*14 Da", "serie 2= 205+ N*14 Da", "serie 3= 209+ N*14 Da", "serie 4= 211+ N*14 Da"], "range": ["M-5,0H5", "circle", "circle", "circle", "circle"]},
     "legend": {"title": null, "orient": "none", "legendX": 608, "legendY": 477}},
    "stroke": {"field": "s", "type": "nominal",
     "scale": {"domain": ["Comp. 3", "serie 1= 203+ N*14 Da", "serie 2= 205+ N*14 Da", "serie 3= 209+ N*14 Da", "serie 4= 211+ N*14 Da"], "range": ["#000000", "transparent", "transparent", "transparent", "transparent"]},
     "legend": {"title": null, "orient": "none", "legendX": 608, "legendY": 477}}
   }}
 ]
},
{
 "width": 562, "height": 264,
 "data": {"name": "c4"},
 "layer": [
  {"mark": {"type": "line", "color": "#000000", "strokeWidth": 1, "invalid": "break-paths-show-domains"},
   "encoding": {
    "x": {"field": "m", "type": "quantitative", "scale": {"domain": [202, 476.3], "nice": false, "zero": false}, "axis": {"orient": "bottom", "values": [250,300,350,400,450], "title": null}},
    "y": {"field": "v", "type": "quantitative", "scale": {"domain": [0, 1], "nice": false, "zero": false}, "axis": {"orient": "left", "values": [0,0.2,0.4,0.6,0.8,1], "format": "~r", "title": null}}
   }},
  {"transform": [{"filter": "isValid(datum.s)"}],
   "mark": {"type": "point", "filled": true, "size": 160, "opacity": 1, "strokeWidth": 1},
   "encoding": {
    "x": {"field": "m", "type": "quantitative", "axis": {"orient": "top", "values": [250,300,350,400,450], "labels": false, "title": "C 4", "titleX": 11, "titleY": 27, "titleAngle": 0, "titleAlign": "left", "titleBaseline": "alphabetic", "titleFontSize": 19, "titleColor": "#000000"}},
    "y": {"field": "v", "type": "quantitative", "axis": {"orient": "right", "values": [0,0.2,0.4,0.6,0.8,1], "labels": false, "title": null}},
    "color": {"field": "s", "type": "nominal",
     "scale": {"domain": ["Comp. 4", "serie 1= 203+ N*14 Da", "serie 2= 209+ N*14 Da", "248Da (non periodic)"], "range": ["#000000", "#D95319", "#0000FF", "#00FF00"]},
     "legend": {"title": null, "orient": "none", "legendX": 259, "legendY": 506}},
    "shape": {"field": "s", "type": "nominal",
     "scale": {"domain": ["Comp. 4", "serie 1= 203+ N*14 Da", "serie 2= 209+ N*14 Da", "248Da (non periodic)"], "range": ["M-5,0H5", "circle", "circle", "circle"]},
     "legend": {"title": null, "orient": "none", "legendX": 259, "legendY": 506}},
    "stroke": {"field": "s", "type": "nominal",
     "scale": {"domain": ["Comp. 4", "serie 1= 203+ N*14 Da", "serie 2= 209+ N*14 Da", "248Da (non periodic)"], "range": ["#000000", "transparent", "transparent", "transparent"]},
     "legend": {"title": null, "orient": "none", "legendX": 259, "legendY": 506}}
   }}
 ]
},
{
 "width": 495, "height": 144,
 "view": {"stroke": null},
 "title": {"text": "B", "fontSize": 42, "fontWeight": "normal", "dx": -15, "offset": -5},
 "layer": [
  {"data": {"name": "hm"},
   "mark": {"type": "rect", "stroke": "#4d4d4d", "strokeWidth": 1.2},
   "encoding": {
    "x": {"field": "x", "type": "ordinal", "scale": {"range": [17, 495], "paddingInner": 0, "paddingOuter": 0}, "axis": {"orient": "bottom", "labelExpr": "datum.value % 2 === 1 ? datum.label : ''", "ticks": false, "labelAngle": 0, "labelPadding": 12, "title": "Series start (in Da)", "titleX": 362, "titleY": 56, "titleAlign": "center", "titleBaseline": "middle"}},
    "y": {"field": "c", "type": "ordinal", "scale": {"domain": ["C1","C2","C3","C4"], "range": [12, 144], "paddingInner": 0, "paddingOuter": 0}, "axis": {"orient": "left", "offset": -17, "ticks": false, "labelPadding": 10, "title": "Component #", "titlePadding": 9}},
    "color": {"field": "t", "type": "nominal", "scale": {"domain": ["Minima","Maxima","none"], "range": ["#0000FF","#FF0000","#FFFFFF"]}, "legend": null}
   }},
  {"data": {"name": "cb"},
   "mark": {"type": "rect"},
   "encoding": {
    "x": {"field": "k", "type": "nominal", "sort": ["Minima","Maxima"], "scale": {"range": [29, 120], "paddingInner": 0.045, "paddingOuter": 0}, "axis": {"orient": "bottom", "offset": 75, "ticks": false, "labelAngle": 0, "labelFontSize": 21, "labelPadding": 13, "title": null,
      "labelAlign": {"condition": {"test": "datum.value === 'Minima'", "value": "right"}, "value": "left"},
      "labelOffset": {"condition": {"test": "datum.value === 'Minima'", "value": 16}, "value": -22}}},
    "y": {"datum": "bar", "type": "nominal", "scale": {"range": [192, 219], "paddingInner": 0, "paddingOuter": 0}, "axis": null},
    "color": {"field": "k", "type": "nominal", "scale": {"domain": ["Minima","Maxima"], "range": ["#0000FF","#FF0000"]}, "legend": null}
   }}
 ],
 "resolve": {"scale": {"x": "independent", "y": "independent", "color": "independent"}}
}
]
}
